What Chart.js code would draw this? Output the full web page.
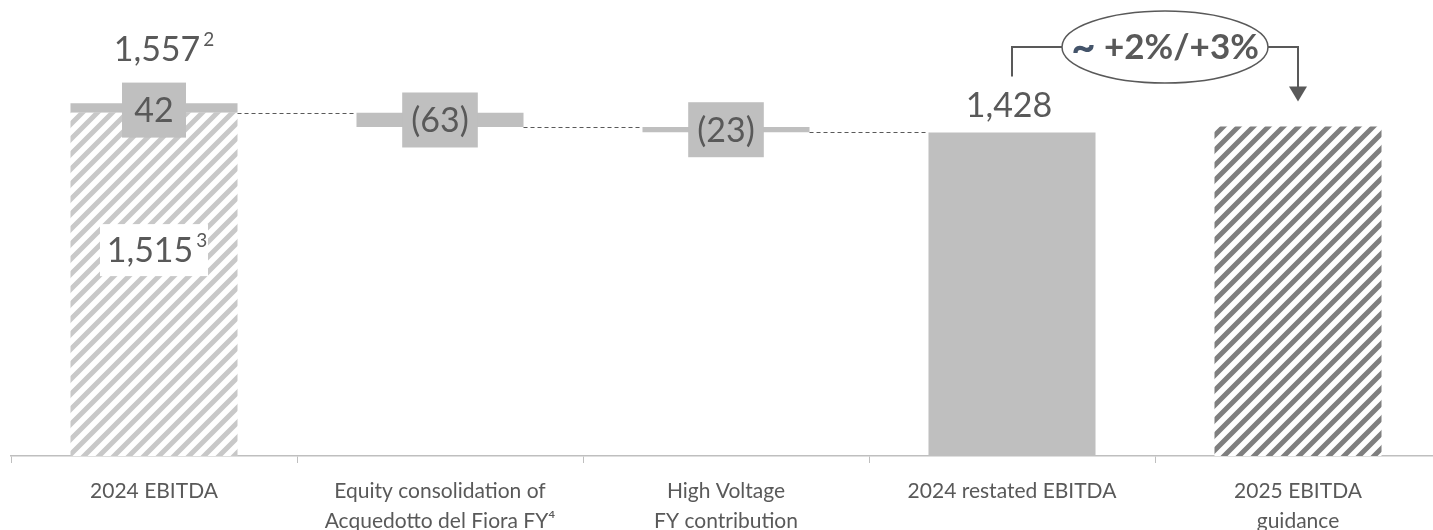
<!DOCTYPE html>
<html>
<head>
<meta charset="utf-8">
<script src="https://cdn.jsdelivr.net/npm/chart.js@4.4.1/dist/chart.umd.min.js"></script>
<style>
html,body{margin:0;padding:0;overflow:hidden;background:#fff;width:1433px;height:530px}
#wrap{position:absolute;left:0;top:0;width:1452px;height:530px}
</style>
</head>
<body>
<div id="wrap"><canvas id="c"></canvas></div>
<script>
// ---- data ----
const categories = [
  '2024 EBITDA',
  ['Equity consolidation of', 'Acquedotto del Fiora FY\u2074'],
  ['High Voltage', 'FY contribution'],
  '2024 restated EBITDA',
  ['2025 EBITDA', 'guidance']
];
const totalValues = [1515, null, null, 1428, 1455];      // full bars from zero
const deltaValues = [42, -63, -23, null, null];          // floating steps
const deltaLabels = ['42', '(63)', '(23)', '', ''];
const topLabels = ['1,557', '', '', '1,428', ''];
const topSup = ['2', '', '', '', ''];
const innerLabels = ['1,515', '', '', '', ''];
const innerSup = ['3', '', '', '', ''];
const growthLabel = ['~', ' +2%/+3%'];

// ---- derived floating bars ----
const deltaData = [];
let running = totalValues[0];
deltaValues.forEach((d, i) => {
  if (d === null) { deltaData.push(null); return; }
  if (i === 0) { deltaData.push([totalValues[0], totalValues[0] + d]); return; }
  const next = running + d;
  deltaData.push([Math.min(running, next), Math.max(running, next)]);
  running = next;
});

function makeHatch(color) {
  const s = 15;
  const c = document.createElement('canvas');
  c.width = s; c.height = s;
  const g = c.getContext('2d');
  g.fillStyle = '#ffffff';
  g.fillRect(0, 0, s, s);
  g.strokeStyle = color;
  g.lineWidth = 5;
  g.beginPath();
  g.moveTo(0, s); g.lineTo(s, 0);
  g.moveTo(-s / 2, s / 2); g.lineTo(s / 2, -s / 2);
  g.moveTo(s / 2, 3 * s / 2); g.lineTo(3 * s / 2, s / 2);
  g.stroke();
  return g.createPattern(c, 'repeat');
}
const hatchLight = makeHatch('#c8c8c8');
const hatchDark = makeHatch('#7f7f7f');
const GREY = '#bfbfbf';
const TXT = '#595959';
const FONT = 'Lato, "Open Sans", sans-serif';

const annot = {
  id: 'annot',
  afterDatasetsDraw(chart) {
    const ctx = chart.ctx;
    const x = chart.scales.x, y = chart.scales.y;
    const m0 = chart.getDatasetMeta(0), m1 = chart.getDatasetMeta(1);
    ctx.save();

    // dashed connectors
    ctx.strokeStyle = TXT;
    ctx.lineWidth = 1.2;
    ctx.setLineDash([4, 3]);
    let lv = totalValues[0];
    for (let i = 0; i < 3; i++) {
      const fromBar = m1.data[i];
      const toBar = i < 2 ? m1.data[i + 1] : m0.data[3];
      const yy = Math.round(y.getPixelForValue(lv)) + 0.5;
      ctx.beginPath();
      ctx.moveTo(fromBar.x + fromBar.width / 2, yy);
      ctx.lineTo(toBar.x - toBar.width / 2, yy);
      ctx.stroke();
      if (i < 2) lv += deltaValues[i + 1];
    }
    ctx.setLineDash([]);

    // delta label boxes
    ctx.font = '34px ' + FONT;
    ctx.textAlign = 'center';
    ctx.textBaseline = 'middle';
    deltaLabels.forEach((t, i) => {
      if (!t) return;
      const b = m1.data[i];
      const cy = (b.y + b.base) / 2 + (i === 0 ? 2 : 0);
      const w = Math.max(64, ctx.measureText(t).width + 18);
      const h = 55;
      ctx.fillStyle = GREY;
      ctx.fillRect(b.x - w / 2, cy - h / 2, w, h);
      ctx.fillStyle = TXT;
      ctx.fillText(t, b.x, cy + 1);
    });

    // label with superscript helper
    function supText(main, sup, cx, baseY, size) {
      ctx.font = size + 'px ' + FONT;
      const mw = ctx.measureText(main).width;
      const left = cx - mw / 2;
      ctx.fillStyle = TXT;
      ctx.textAlign = 'left';
      ctx.textBaseline = 'alphabetic';
      ctx.fillText(main, left, baseY);
      if (sup) {
        ctx.font = Math.round(size * 0.55) + 'px ' + FONT;
        ctx.fillText(sup, left + mw + 3, baseY - size * 0.45);
      }
    }

    // top labels
    topLabels.forEach((t, i) => {
      if (!t) return;
      const cx = x.getPixelForValue(i);
      let topVal = totalValues[i];
      if (deltaData[i]) topVal = Math.max(topVal, deltaData[i][1]);
      const top = y.getPixelForValue(topVal);
      const baseY = i === 0 ? top - 42 : top - 16;
      supText(t, topSup[i], cx + (i === 0 ? 3 : -3), baseY, 34);
    });

    // inner labels with white box
    innerLabels.forEach((t, i) => {
      if (!t) return;
      const cx = x.getPixelForValue(i);
      const cy = y.getPixelForValue(totalValues[i] * 0.6);
      ctx.fillStyle = '#ffffff';
      ctx.fillRect(cx - 54, cy - 26, 108, 52);
      supText(t, innerSup[i], cx - 4, cy + 12, 34);
    });

    // growth callout
    const xl = x.getPixelForValue(3), xr = x.getPixelForValue(4);
    const yTopR = y.getPixelForValue(totalValues[4]);
    const yTopL = y.getPixelForValue(totalValues[3]);
    const ey = 47;
    const ecx = (xl + xr) / 2 + 10, rx = 103, ry = 36;
    ctx.strokeStyle = TXT;
    ctx.lineWidth = 2;
    ctx.beginPath();
    ctx.moveTo(xl, yTopL - 56);
    ctx.lineTo(xl, ey);
    ctx.lineTo(ecx - rx, ey);
    ctx.stroke();
    ctx.beginPath();
    ctx.moveTo(ecx + rx, ey);
    ctx.lineTo(xr, ey);
    ctx.lineTo(xr, yTopR - 38);
    ctx.stroke();
    ctx.fillStyle = TXT;
    ctx.beginPath();
    ctx.moveTo(xr - 9, yTopR - 40);
    ctx.lineTo(xr + 9, yTopR - 40);
    ctx.lineTo(xr, yTopR - 25);
    ctx.closePath();
    ctx.fill();
    ctx.fillStyle = '#ffffff';
    ctx.lineWidth = 1.5;
    ctx.beginPath();
    ctx.ellipse(ecx, ey, rx, ry, 0, 0, Math.PI * 2);
    ctx.fill();
    ctx.stroke();
    ctx.textBaseline = 'alphabetic';
    ctx.textAlign = 'left';
    ctx.font = 'bold 42px ' + FONT;
    const w1 = ctx.measureText(growthLabel[0]).width;
    ctx.font = 'bold 35px ' + FONT;
    const w2 = ctx.measureText(growthLabel[1]).width;
    const sx = ecx - (w1 + w2) / 2;
    ctx.fillStyle = '#44546a';
    ctx.font = 'bold 42px ' + FONT;
    ctx.fillText(growthLabel[0], sx, ey + 14);
    ctx.fillStyle = TXT;
    ctx.font = 'bold 35px ' + FONT;
    ctx.fillText(growthLabel[1], sx + w1, ey + 12);

    ctx.restore();
  }
};

new Chart(document.getElementById('c'), {
  type: 'bar',
  data: {
    labels: categories,
    datasets: [
      {
        data: totalValues,
        backgroundColor: [hatchLight, GREY, GREY, GREY, hatchDark],
        borderWidth: 0,
        grouped: false,
        barPercentage: 0.584,
        categoryPercentage: 1
      },
      {
        data: deltaData,
        backgroundColor: GREY,
        borderWidth: 0,
        grouped: false,
        barPercentage: 0.584,
        categoryPercentage: 1
      }
    ]
  },
  options: {
    responsive: true,
    maintainAspectRatio: false,
    animation: false,
    layout: { padding: { left: 11, right: 11, top: 3, bottom: 0 } },
    plugins: { legend: { display: false }, tooltip: { enabled: false } },
    scales: {
      x: {
        afterFit(s) { s.height = 74; },
        border: { display: true, color: GREY, width: 1.5 },
        grid: { display: true, drawOnChartArea: false, drawTicks: true, tickLength: 7, color: GREY, lineWidth: 1 },
        ticks: {
          color: TXT,
          padding: 13,
          maxRotation: 0,
          autoSkip: false,
          font: { family: FONT, size: 21, lineHeight: 1.45 }
        }
      },
      y: { display: false, min: 0, max: 2000 }
    }
  },
  plugins: [annot]
});
</script>
</body>
</html>
